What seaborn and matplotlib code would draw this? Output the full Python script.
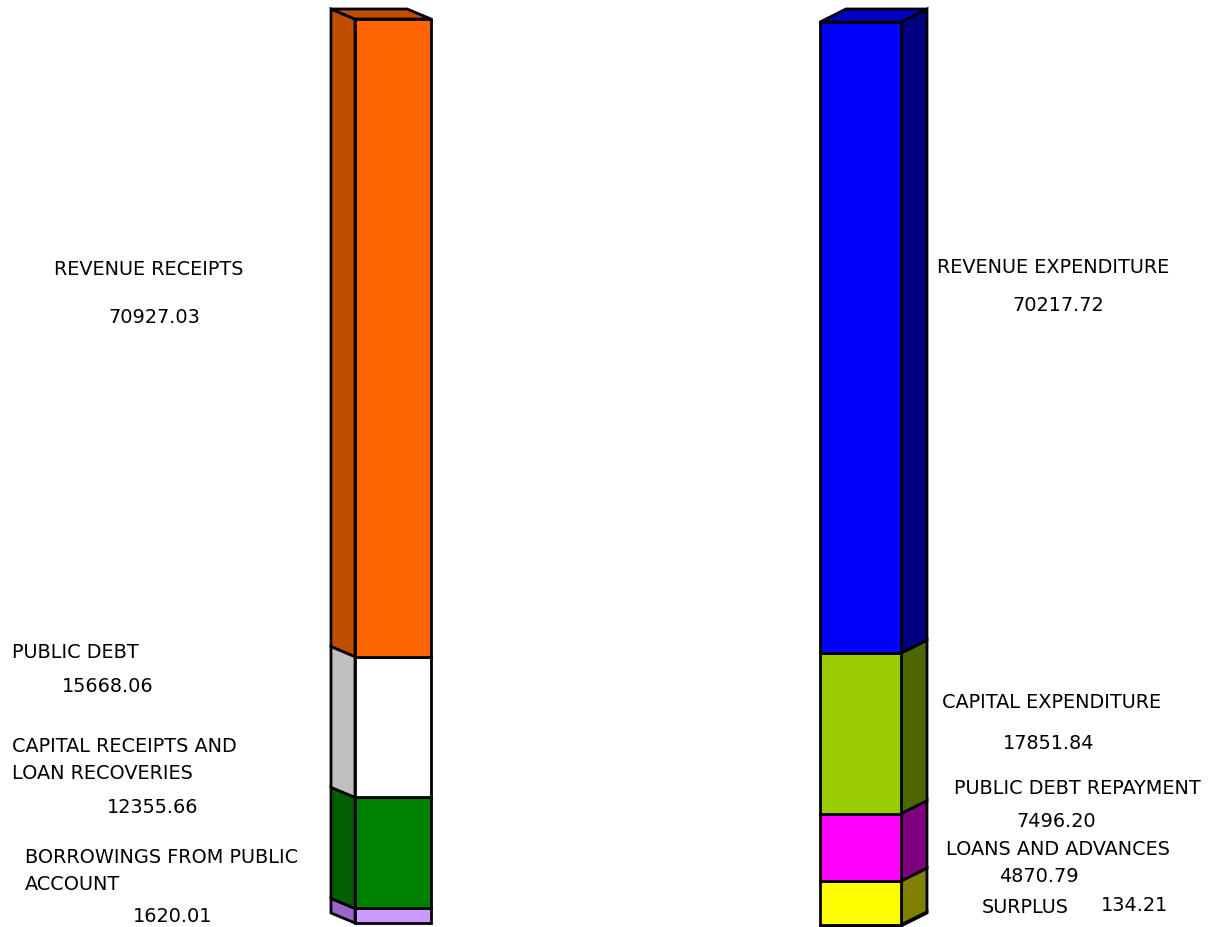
import matplotlib
matplotlib.use("Agg")
import matplotlib.pyplot as plt
from matplotlib.patches import Polygon
import numpy as np
import seaborn as sns

# =========================================================
# Data (bottom -> top of each stack)
# =========================================================
receipt_labels = ["BORROWINGS FROM PUBLIC\nACCOUNT", "CAPITAL RECEIPTS AND\nLOAN RECOVERIES",
                  "PUBLIC DEBT", "REVENUE RECEIPTS"]
receipt_values = [1620.01, 12355.66, 15668.06, 70927.03]

expend_labels = ["SURPLUS", "LOANS AND ADVANCES", "PUBLIC DEBT REPAYMENT",
                 "CAPITAL EXPENDITURE", "REVENUE EXPENDITURE"]
expend_values = [134.21, 4870.79, 7496.20, 17851.84, 70217.72]

# colours: front face / side face / top face
receipt_front = ["#CC99FF", "#008000", "#FFFFFF", "#FF6600"]
receipt_side = ["#9966CC", "#006000", "#C0C0C0", "#C04E00"]
receipt_top = "#C04E00"
expend_front = ["#008000", "#FFFF00", "#FF00FF", "#99CC00", "#0000FF"]
expend_side = ["#004000", "#808000", "#800080", "#4C6600", "#000080"]
expend_top = "#0000C0"

# label placement in pixels (name x, name y, value x, value y)
receipt_pos = [(25, 871, 133, 917), (12, 760, 107, 808), (12, 653, 62, 687), (54, 270, 108, 318)]
expend_pos = [(982, 908, 1101, 906), (946, 850, 999, 877), (954, 789, 1016, 822),
              (942, 703, 1003, 744), (937, 268, 1012, 306)]

# =========================================================
# Figure set-up (axes span the whole canvas, x in pixels)
# =========================================================
sns.set_theme(style="white")
plt.rcParams["font.family"] = ["DejaVu Sans"]

W, H = 1215, 928
fig = plt.figure(figsize=(W / 100, H / 100), dpi=100)
ax = fig.add_axes([0, 0, 1, 1])
ax.axis("off")

total = sum(receipt_values)
base_px, top_px = 924, 20
k = total / (base_px - top_px)  # value units per pixel


def vy(p):
    return (base_px - p) * k


ax.set_xlim(0, W)
ax.set_ylim(vy(H), vy(0))


def draw_bar(values, front, side, top, x0, width, dx, dy_px, shift_px=0):
    dy = dy_px * k
    base = -shift_px * k
    bottoms = base + np.concatenate([[0], np.cumsum(values)[:-1]])
    ax.bar(x0 + width / 2, values, width=width, bottom=bottoms, color=front,
           edgecolor="black", linewidth=2.0, zorder=3)
    xe = x0 if dx < 0 else x0 + width
    for b, v, c in zip(bottoms, values, side):
        t = b + v
        ax.add_patch(Polygon([(xe, b), (xe + dx, b + dy), (xe + dx, t + dy), (xe, t)],
                             closed=True, facecolor=c, edgecolor="black",
                             linewidth=2.0, joinstyle="miter", zorder=2))
    T = bottoms[-1] + values[-1]
    ax.add_patch(Polygon([(x0, T), (x0 + width, T), (x0 + width + dx, T + dy), (x0 + dx, T + dy)],
                         closed=True, facecolor=top, edgecolor="black",
                         linewidth=2.0, joinstyle="miter", zorder=2))


draw_bar(receipt_values, receipt_front, receipt_side, receipt_top, 355, 76, -24, 10)
draw_bar(expend_values, expend_front, expend_side, expend_top, 820, 81, 26, 13, shift_px=3)

fs = 13.85
for lab, val, (nx, ny, tx, ty) in zip(receipt_labels + expend_labels,
                                       receipt_values + expend_values,
                                       receipt_pos + expend_pos):
    ax.text(nx, vy(ny), lab, ha="left", va="center", fontsize=fs,
            linespacing=1.5, color="black")
    ax.text(tx, vy(ty), f"{val:.2f}", ha="left", va="center", fontsize=fs, color="black")

fig.savefig("out.png", dpi=100)
plt.close(fig)
